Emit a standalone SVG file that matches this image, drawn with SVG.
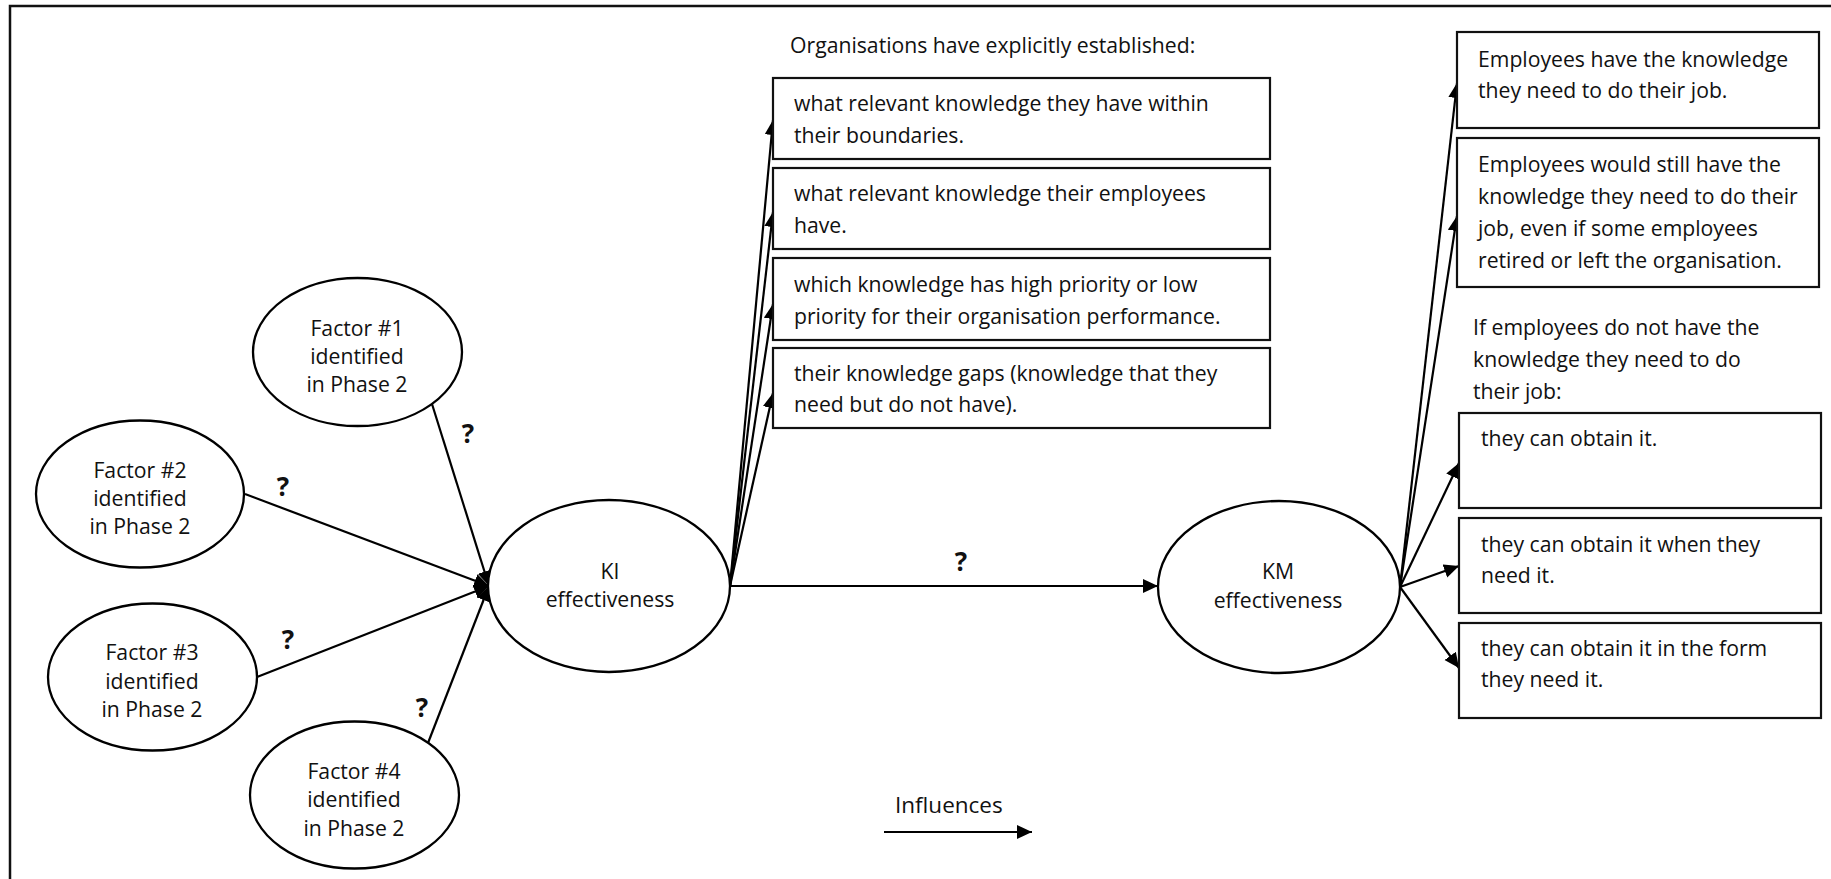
<svg xmlns="http://www.w3.org/2000/svg" width="1831" height="879" viewBox="0 0 1831 879">
  <style>
    .frame { fill: none; stroke: #111; stroke-width: 2.5; }
    .node { fill: #fff; stroke: #000; stroke-width: 2.3; }
    .box { fill: #fff; stroke: #111; stroke-width: 2.2; }
    .txt { font-family: "Open Sans", "Liberation Sans", sans-serif; font-size: 21.2px; fill: #111; }
    .mid { text-anchor: middle; }
    .q { font-family: "Open Sans", "Liberation Sans", sans-serif; font-size: 26px; font-weight: bold; fill: #111; text-anchor: middle; }
    .link { fill: none; stroke: #000; stroke-width: 2.2; marker-end: url(#arrow); }
  </style>
  <defs>
    <marker id="arrow" markerUnits="userSpaceOnUse" markerWidth="16" markerHeight="15" refX="15" refY="7" orient="auto">
      <path d="M0,0 L15,7 L0,14 Z" fill="#000"/>
    </marker>
  </defs>

  <rect width="1831" height="879" fill="#fff"/>
  <!-- outer frame (runs past the right and bottom edges) -->
  <path class="frame" d="M10,879 V6 H1831"/>

  <!-- connectors -->
  <g id="connectors">
    <line class="link" x1="432" y1="404" x2="489" y2="586"/>
    <line class="link" x1="245" y1="494" x2="489" y2="586"/>
    <line class="link" x1="257" y1="677" x2="489" y2="586"/>
    <line class="link" x1="428" y1="743" x2="489" y2="586"/>

    <line class="link" x1="730" y1="586" x2="773" y2="120"/>
    <line class="link" x1="730" y1="586" x2="773" y2="212"/>
    <line class="link" x1="730" y1="586" x2="773" y2="304"/>
    <line class="link" x1="730" y1="586" x2="773" y2="393"/>

    <line class="link" x1="730" y1="586" x2="1158" y2="586"/>

    <line class="link" x1="1400" y1="587" x2="1457" y2="83"/>
    <line class="link" x1="1400" y1="587" x2="1457" y2="216"/>
    <line class="link" x1="1400" y1="587" x2="1459" y2="463"/>
    <line class="link" x1="1400" y1="587" x2="1459" y2="566"/>
    <line class="link" x1="1400" y1="587" x2="1459" y2="668"/>

    <text class="q" x="468" y="443">?</text>
    <text class="q" x="283" y="496">?</text>
    <text class="q" x="288" y="649">?</text>
    <text class="q" x="422" y="717">?</text>
    <text class="q" x="961" y="571">?</text>
  </g>

  <!-- factor nodes -->
  <g id="factor1">
    <ellipse class="node" cx="357.5" cy="352" rx="104.5" ry="74"/>
    <text class="txt mid" x="357" y="336">Factor #1</text>
    <text class="txt mid" x="357" y="364">identified</text>
    <text class="txt mid" x="357" y="392">in Phase 2</text>
  </g>
  <g id="factor2">
    <ellipse class="node" cx="140" cy="494" rx="104" ry="73.5"/>
    <text class="txt mid" x="140" y="478">Factor #2</text>
    <text class="txt mid" x="140" y="506">identified</text>
    <text class="txt mid" x="140" y="534">in Phase 2</text>
  </g>
  <g id="factor3">
    <ellipse class="node" cx="152.5" cy="677" rx="104.5" ry="73.5"/>
    <text class="txt mid" x="152" y="660">Factor #3</text>
    <text class="txt mid" x="152" y="689">identified</text>
    <text class="txt mid" x="152" y="717">in Phase 2</text>
  </g>
  <g id="factor4">
    <ellipse class="node" cx="354.5" cy="795" rx="104.5" ry="73.5"/>
    <text class="txt mid" x="354" y="779">Factor #4</text>
    <text class="txt mid" x="354" y="807">identified</text>
    <text class="txt mid" x="354" y="836">in Phase 2</text>
  </g>

  <!-- central nodes -->
  <g id="ki">
    <ellipse class="node" cx="609" cy="586" rx="121" ry="86"/>
    <text class="txt mid" x="610" y="579">KI</text>
    <text class="txt mid" x="610" y="607">effectiveness</text>
  </g>
  <g id="km">
    <ellipse class="node" cx="1279" cy="587" rx="121" ry="86"/>
    <text class="txt mid" x="1278" y="579">KM</text>
    <text class="txt mid" x="1278" y="608">effectiveness</text>
  </g>

  <!-- KI outcomes -->
  <g id="ki-heading">
    <text class="txt" x="790" y="53">Organisations have explicitly established:</text>
  </g>
  <g id="ki-box1">
    <rect class="box" x="773" y="78" width="497" height="81"/>
    <text class="txt" x="794" y="111">what relevant knowledge they have within</text>
    <text class="txt" x="794" y="143">their boundaries.</text>
  </g>
  <g id="ki-box2">
    <rect class="box" x="773" y="168" width="497" height="81"/>
    <text class="txt" x="794" y="201">what relevant knowledge their employees</text>
    <text class="txt" x="794" y="233">have.</text>
  </g>
  <g id="ki-box3">
    <rect class="box" x="773" y="258" width="497" height="82"/>
    <text class="txt" x="794" y="292">which knowledge has high priority or low</text>
    <text class="txt" x="794" y="324">priority for their organisation performance.</text>
  </g>
  <g id="ki-box4">
    <rect class="box" x="773" y="348" width="497" height="80"/>
    <text class="txt" x="794" y="381">their knowledge gaps (knowledge that they</text>
    <text class="txt" x="794" y="412">need but do not have).</text>
  </g>

  <!-- KM outcomes -->
  <g id="km-box1">
    <rect class="box" x="1457" y="32" width="362" height="96"/>
    <text class="txt" x="1478" y="67">Employees have the knowledge</text>
    <text class="txt" x="1478" y="98">they need to do their job.</text>
  </g>
  <g id="km-box2">
    <rect class="box" x="1457" y="138" width="362" height="149"/>
    <text class="txt" x="1478" y="172">Employees would still have the</text>
    <text class="txt" x="1478" y="204">knowledge they need to do their</text>
    <text class="txt" x="1478" y="236">job, even if some employees</text>
    <text class="txt" x="1478" y="268">retired or left the organisation.</text>
  </g>
  <g id="km-heading">
    <text class="txt" x="1473" y="335">If employees do not have the</text>
    <text class="txt" x="1473" y="367">knowledge they need to do</text>
    <text class="txt" x="1473" y="399">their job:</text>
  </g>
  <g id="km-box3">
    <rect class="box" x="1459" y="413" width="362" height="95"/>
    <text class="txt" x="1481" y="446">they can obtain it.</text>
  </g>
  <g id="km-box4">
    <rect class="box" x="1459" y="518" width="362" height="95"/>
    <text class="txt" x="1481" y="552">they can obtain it when they</text>
    <text class="txt" x="1481" y="583">need it.</text>
  </g>
  <g id="km-box5">
    <rect class="box" x="1459" y="623" width="362" height="95"/>
    <text class="txt" x="1481" y="656">they can obtain it in the form</text>
    <text class="txt" x="1481" y="687">they need it.</text>
  </g>

  <!-- legend -->
  <g id="legend">
    <text class="txt" x="895" y="813" style="font-size:22.5px">Influences</text>
    <line class="link" x1="884" y1="832" x2="1032" y2="832"/>
  </g>
</svg>
